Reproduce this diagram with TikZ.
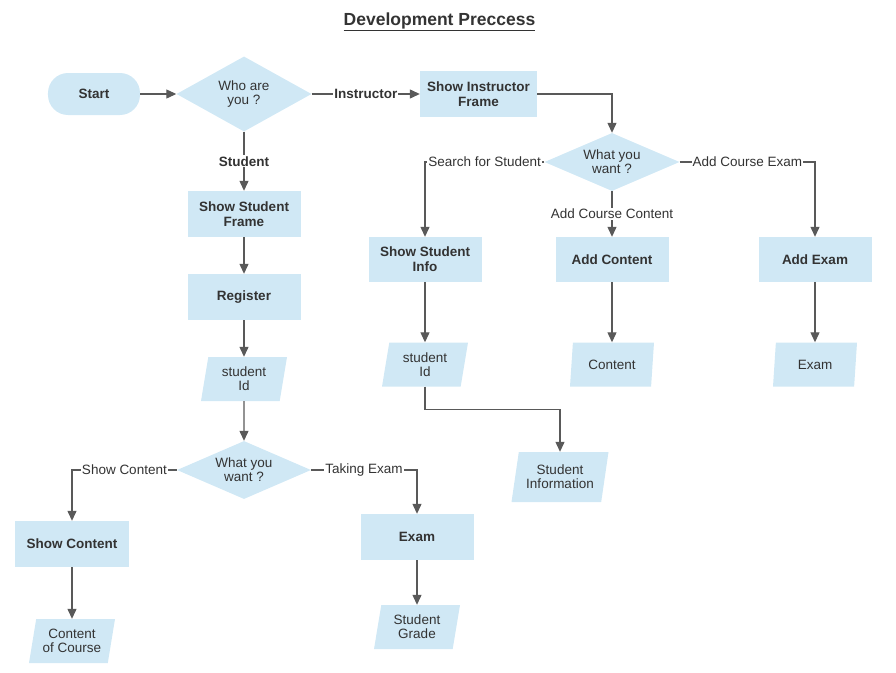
\documentclass[tikz,border=0pt]{standalone}
\usepackage{fontspec}
\setmainfont{Liberation Sans}
\usepackage{xcolor}
\usepackage{tikz}
\usetikzlibrary{
    shapes.geometric,
    positioning,
    arrows.meta
}
\definecolor{boxblue}{HTML}{D0E8F5}
\definecolor{linegray}{HTML}{595959}
\definecolor{textgray}{HTML}{333333}
\tikzset{
  basic/.style = {
      font=\fontsize{13.5}{15}\selectfont\bfseries,
      text=textgray,
      fill=boxblue,
      align=center,
      inner sep=0pt
  },
  terminal/.style = {
      basic,
      rectangle,
      rounded corners=20pt,
      minimum width=92pt,
      minimum height=42pt
  },
  process/.style = {
      basic,
      rectangle,
      minimum width=113pt,
      minimum height=46pt
  },
  decision/.style = {
      basic,
      diamond,
      aspect=2.3,
      font=\fontsize{13.5}{14}\selectfont,
      minimum width=134pt,
      minimum height=58pt
  },
  data/.style = {
      basic,
      trapezium,
      trapezium left angle=73,
      trapezium right angle=107,
      trapezium stretches body,
      font=\fontsize{13.5}{14}\selectfont,
      minimum width=86pt,
      minimum height=44pt
  },
  edge/.style = {
      draw=linegray,
      line width=1.2pt,
      -{Triangle[length=10pt,width=9pt]}
  },
  choice/.style = {
      font=\fontsize{13.5}{15}\selectfont,
      text=textgray,
      fill=white,
      inner sep=1pt
  },
  heading/.style = {
      font=\fontsize{17.5}{20}\selectfont\bfseries,
      text=textgray
  }
}
\begin{document}
\begin{tikzpicture}[x=1pt, y=1pt, on grid]
    \useasboundingbox (-94,-578) rectangle (802,94);
    % Nodes
    \node[terminal] (start) at (0,0) {Start};
    \node[heading, above right=72pt and 345.5pt of start] (title) {\underline{Development Preccess}};
    \node[decision, aspect=1.8, minimum width=135pt, minimum height=75pt, right=150pt of start] (who) {Who are\\you ?};
    \node[process, minimum width=117pt, right=234.5pt of who] (sif) {Show Instructor\\Frame};
    % student side
    \node[process, below=120pt of who] (ssf) {Show Student\\Frame};
    \node[process, below=83pt of ssf] (reg) {Register};
    \node[data, below=82pt of reg] (sid) {student\\Id};
    \node[decision, below=91pt of sid] (want) {What you\\want ?};
    \node[process, minimum width=114pt, below left=74pt and 172pt of want] (sc) {Show Content};
    \node[data, below=97pt of sc] (coc) {Content\\of Course};
    \node[process, below right=67pt and 173pt of want] (exam) {Exam};
    \node[data, below=90pt of exam] (grade) {Student\\Grade};
    % instructor side
    \node[decision, minimum width=135pt, below right=68pt and 133.5pt of sif] (iwant) {What you\\want ?};
    \node[process, minimum height=45pt, below left=97.5pt and 187pt of iwant] (ssi) {Show Student\\Info};
    \node[data, below=105pt of ssi] (sid2) {student\\Id};
    \node[process, minimum height=45pt, below=97.5pt of iwant] (addc) {Add Content};
    \node[data, minimum width=84pt, below=105pt of addc] (cont) {Content};
    \node[process, minimum height=45pt, below right=97.5pt and 203pt of iwant] (adde) {Add Exam};
    \node[data, minimum width=84pt, below=105pt of adde] (examo) {Exam};
    \node[data, minimum width=97pt, minimum height=50pt, below right=112.5pt and 135pt of sid2] (sinfo) {Student\\Information};
    % Edges
    \path[edge] (start) -- (who);
    \path[edge] (who) -- node[choice, font=\fontsize{13.5}{15}\selectfont\bfseries] {Instructor} (sif);
    \path[edge] (who) -- node[choice, font=\fontsize{13.5}{15}\selectfont\bfseries] {Student} (ssf);
    \path[edge] (ssf) -- (reg);
    \path[edge] (reg) -- (sid);
    \path[edge] (sid) -- (want);
    \path[edge] (want) -| node[choice, pos=0.25] {Show Content} (sc);
    \path[edge] (want) -| node[choice, pos=0.25] {Taking Exam} (exam);
    \path[edge] (sc) -- (coc);
    \path[edge] (exam) -- (grade);
    \path[edge] (sif) -| (iwant);
    \path[edge] (iwant) -| node[choice, pos=0.25] {Search for Student} (ssi);
    \path[edge] (iwant) -- node[choice] {Add Course Content} (addc);
    \path[edge] (iwant) -| node[choice, pos=0.25] {Add Course Exam} (adde);
    \path[edge] (ssi) -- (sid2);
    \path[edge] (addc) -- (cont);
    \path[edge] (adde) -- (examo);
    \path[edge] (sid2.south) -- ++(0,-23) -| (sinfo.north);
\end{tikzpicture}
\end{document}
